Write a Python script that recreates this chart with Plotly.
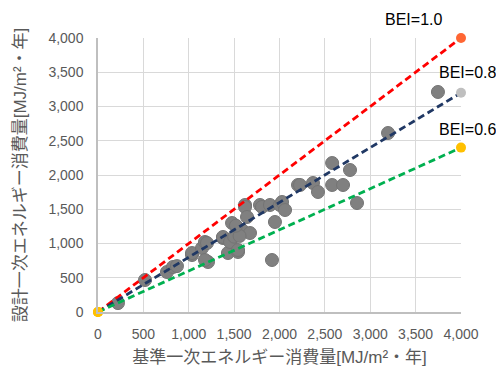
import plotly.graph_objects as go

# Data points (基準, 設計)
base_x = [220, 518, 760, 826, 870, 1036, 1036, 1146, 1179, 1201, 1212, 1179,
          1377, 1377, 1432, 1455, 1477, 1543, 1543, 1587, 1620, 1620, 1642, 1675,
          1500, 1560, 1520, 1785, 1807, 1895, 1917, 1950, 2005, 2028, 2061, 2204,
          2226, 2369, 2424, 2580, 2580, 2700, 2777, 2854, 3196, 3746]
design_y = [130, 467, 584, 657, 670, 832, 861, 934, 1022, 1007, 730, 759,
            1080, 1095, 861, 1022, 1299, 876, 905, 1197, 1562, 1533, 1387, 1153,
            1100, 1110, 1260, 1562, 1533, 1562, 759, 1314, 1562, 1606, 1489, 1854,
            1854, 1883, 1752, 2175, 1854, 1854, 2073, 1591, 2613, 3212]

line_x = [0, 4000]
bei_values = [1.0, 0.8, 0.6]
bei_labels = ["BEI=1.0", "BEI=0.8", "BEI=0.6"]
line_colors = ["#FF0000", "#203864", "#00B050"]
end_colors = ["#FF6633", "#BFBFBF", "#FFC000"]

x_ticks = [0, 500, 1000, 1500, 2000, 2500, 3000, 3500, 4000]

font_family = "Liberation Sans, Noto Sans CJK JP"

fig = go.Figure()

fig.add_trace(go.Scatter(x=base_x, y=design_y, mode="markers",
                         marker=dict(size=13, color="#808080",
                                     line=dict(width=1, color="#747474")),
                         showlegend=False))

for b, lc, ec in zip(bei_values, line_colors, end_colors):
    ys = [v * b for v in line_x]
    fig.add_trace(go.Scatter(x=line_x, y=ys, mode="lines",
                             line=dict(color=lc, width=2.8, dash="7px,4px"),
                             showlegend=False, cliponaxis=False))
    fig.add_trace(go.Scatter(x=line_x, y=ys, mode="markers",
                             marker=dict(size=10, color=["#FFC000", ec]),
                             showlegend=False, cliponaxis=False))

label_pos = [("center", -48, 19), ("left", -24, 20), ("left", -24, 18)]
for b, lab, (anc, xs, ys_) in zip(bei_values, bei_labels, label_pos):
    fig.add_annotation(x=4000, y=4000 * b, text=lab, showarrow=False,
                       xanchor=anc, yanchor="middle", xshift=xs, yshift=ys_,
                       font=dict(size=16, color="#000000", family=font_family))

axis_common = dict(range=[0, 4000], tickvals=x_ticks, tickformat=",",
                   showgrid=True, gridcolor="#D9D9D9", gridwidth=1,
                   showline=True, linecolor="#BFBFBF", linewidth=1.5,
                   zeroline=False, automargin=False,
                   ticks="outside", tickcolor="rgba(0,0,0,0)",
                   tickfont=dict(size=14, color="#595959", family=font_family))

fig.update_layout(
    width=504, height=374,
    margin=dict(l=90, r=51, t=30, b=70, autoexpand=False),
    paper_bgcolor="white", plot_bgcolor="white",
    font=dict(family=font_family, color="#595959", size=14),
    xaxis=dict(**axis_common, ticklen=8,
               title=dict(text="基準一次エネルギー消費量[MJ/m²・年]",
                          font=dict(size=17, color="#595959"), standoff=11)),
    yaxis=dict(**axis_common, ticklen=10,
               title=dict(text="設計一次エネルギー消費量[MJ/m²・年]",
                          font=dict(size=17, color="#595959"), standoff=17)),
)

fig.write_html("out.html")
